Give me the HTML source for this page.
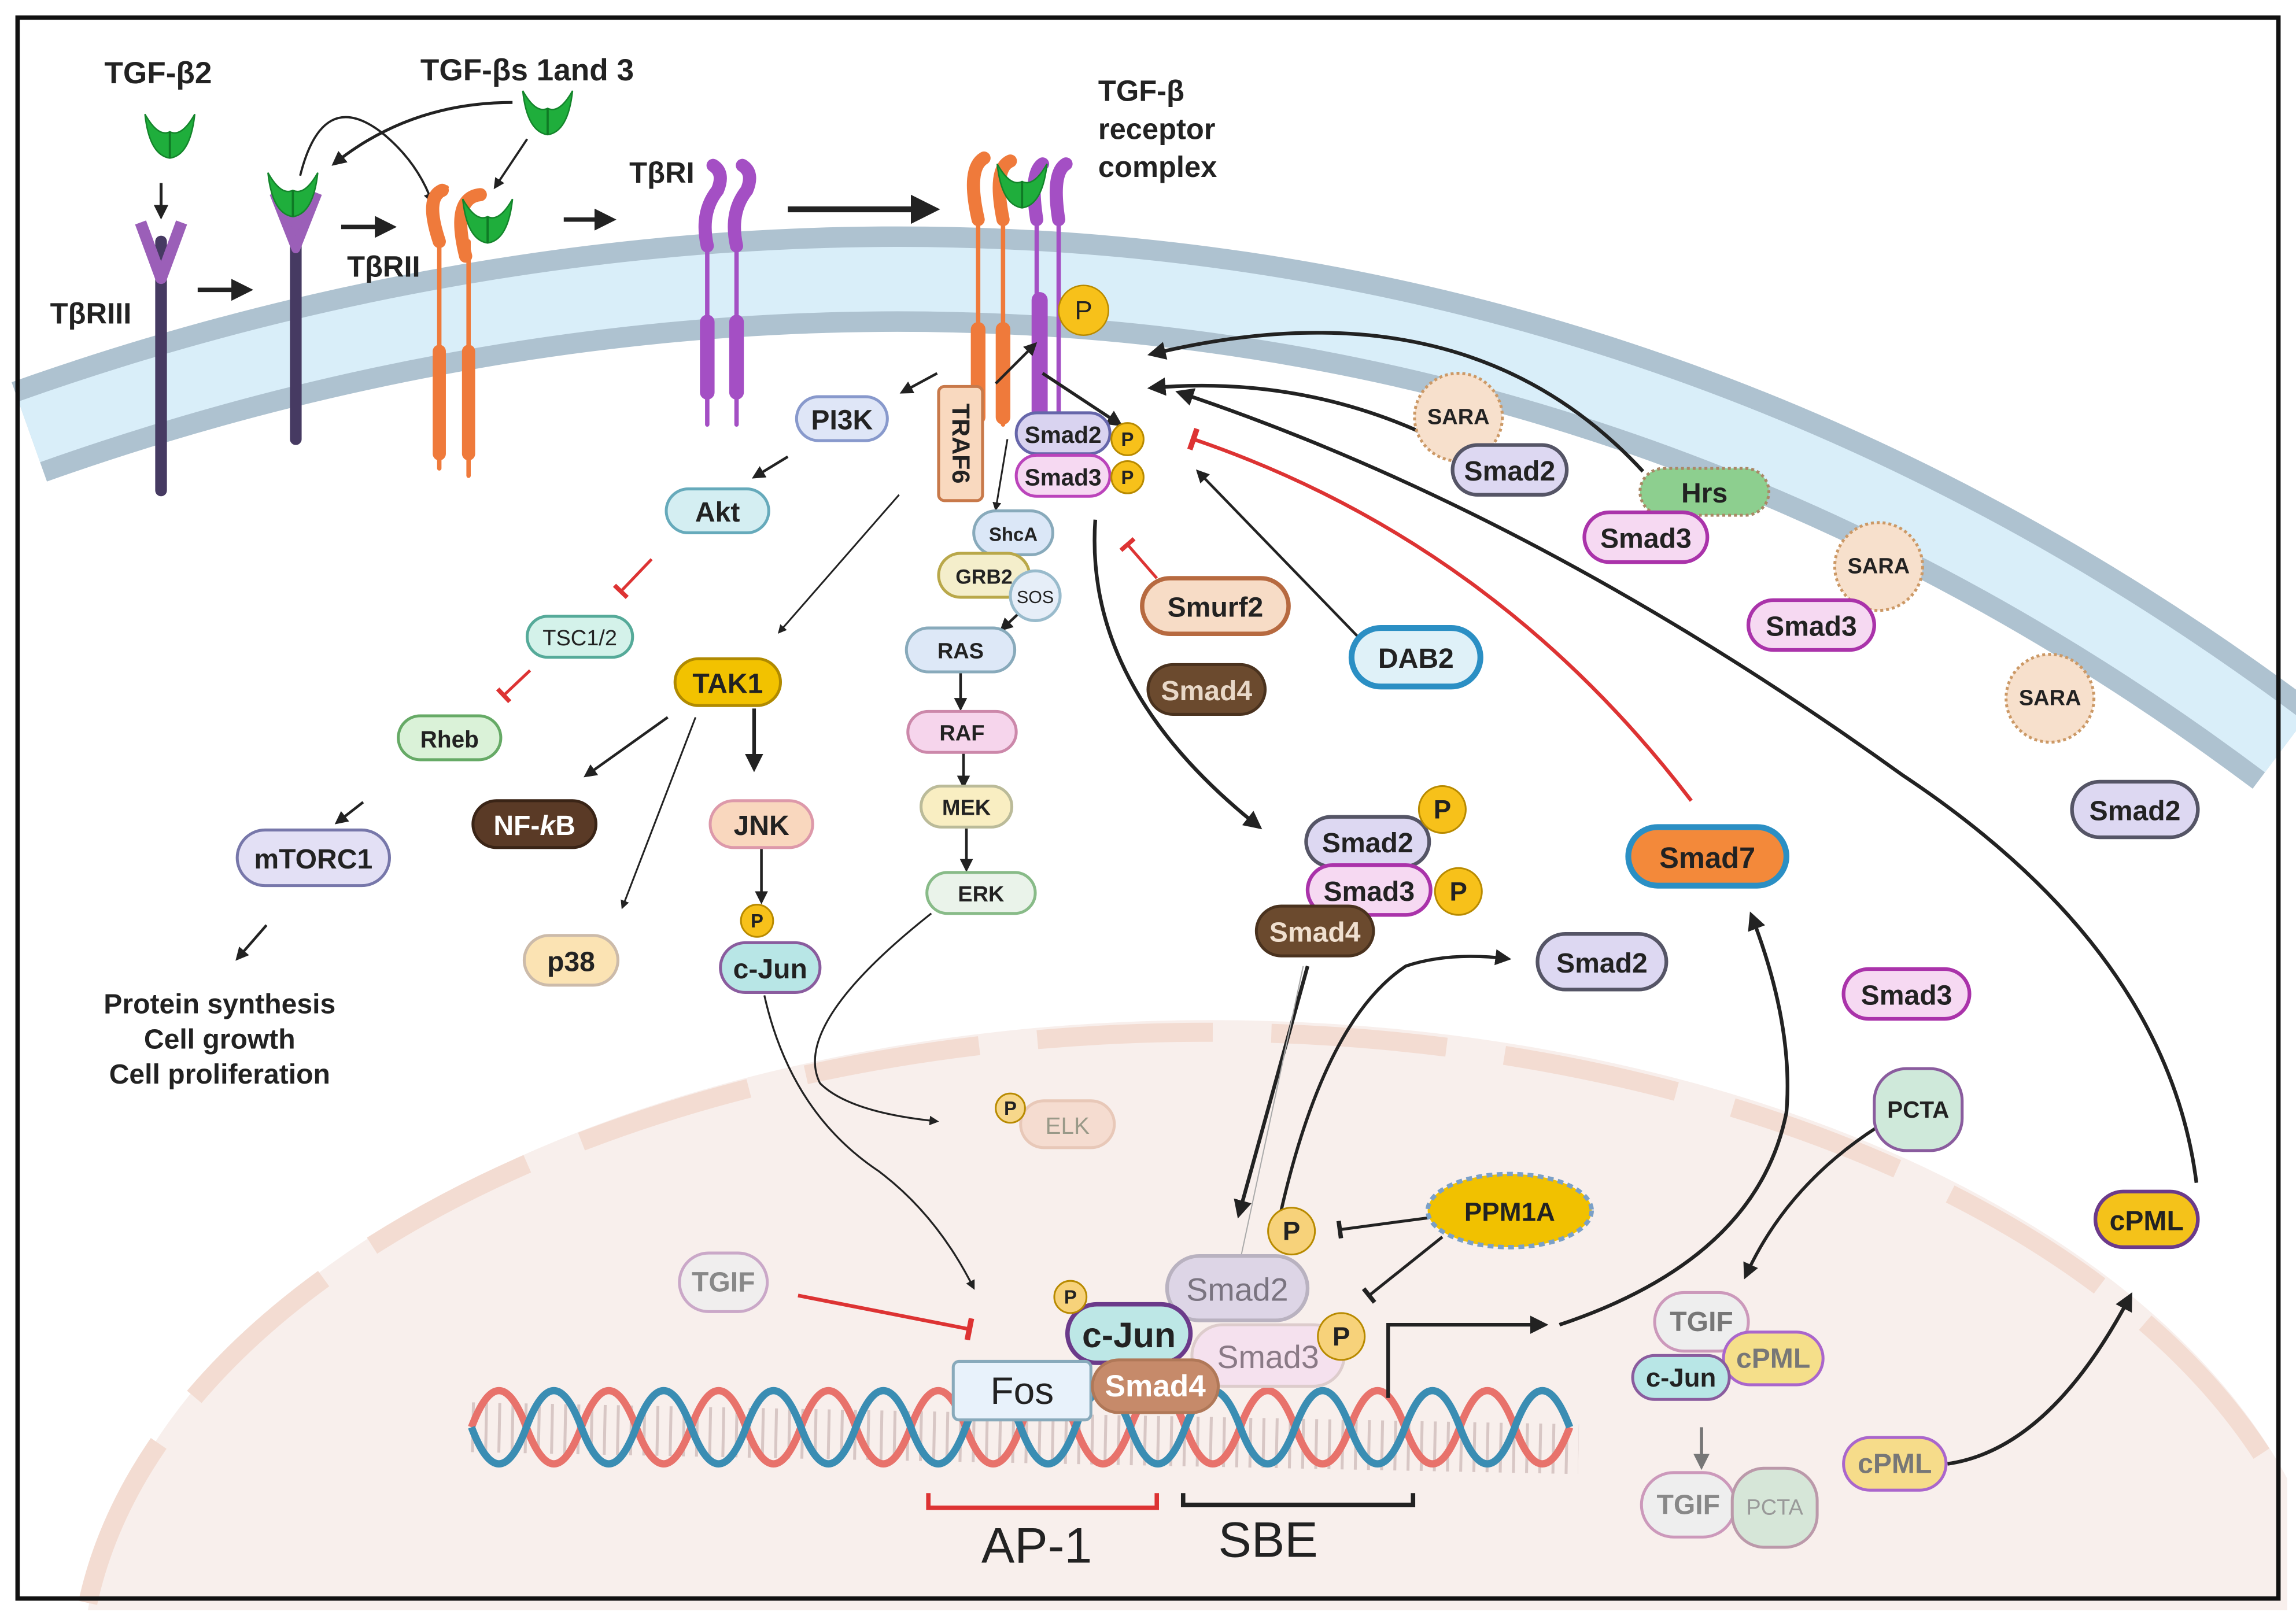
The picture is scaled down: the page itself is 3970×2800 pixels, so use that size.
<!DOCTYPE html>
<html><head><meta charset="utf-8"><style>
html,body{margin:0;padding:0;background:#fff;overflow:hidden;width:3970px;height:2800px}
svg{display:block;overflow:hidden}
text{font-family:"Liberation Sans",sans-serif;font-weight:bold;text-anchor:middle;dominant-baseline:central;fill:#222}
</style></head><body>
<svg width="3970" height="2800" viewBox="0 0 1568 1106" preserveAspectRatio="none" xmlns="http://www.w3.org/2000/svg">
<defs>
<clipPath id="clip"><rect x="0" y="0" width="1568" height="1106"/></clipPath>
<marker id="a" viewBox="0 0 10 10" refX="8" refY="5" markerWidth="5" markerHeight="5" orient="auto"><path d="M0,0L10,5L0,10z" fill="#222"/></marker>
<marker id="g" viewBox="0 0 10 10" refX="8" refY="5" markerWidth="5" markerHeight="5" orient="auto"><path d="M0,0L10,5L0,10z" fill="#777"/></marker>
<marker id="t" viewBox="0 0 10 10" refX="5" refY="5" markerWidth="6" markerHeight="6" orient="auto"><path d="M5,0L5,10" stroke="#d33" stroke-width="2.5"/></marker>
<marker id="tk" viewBox="0 0 10 10" refX="5" refY="5" markerWidth="6" markerHeight="6" orient="auto"><path d="M5,0L5,10" stroke="#222" stroke-width="2.5"/></marker>
<g id="lig"><path d="M-17,-14 Q-14,14 0,16 Q14,14 17,-14 Q8,2 0,-2 Q-8,2 -17,-14Z" fill="#1fae3c" stroke="#14852b" stroke-width="1"/><path d="M0,-2 L0,16" stroke="#0f7a25" stroke-width="1.5"/></g>
</defs>
<rect x="0" y="0" width="1568" height="1106" fill="#fff"/>
<g clip-path="url(#clip)">
<path d="M60 1100 A770 445 0 0 1 1562 1010 L1562 1100 Z" fill="#f8efec"/>
<path d="M60 1095 A770 445 0 0 1 1556 1012" fill="none" stroke="#f3dcd2" stroke-width="13" stroke-dasharray="120 40"/>
<path d="M20 295 C 400 160, 1000 90, 1560 510" fill="none" stroke="#aec2d0" stroke-width="72"/>
<path d="M20 295 C 400 160, 1000 90, 1560 510" fill="none" stroke="#d9eef9" stroke-width="44"/>
</g>
<rect x="12" y="12" width="1544" height="1080" fill="none" stroke="#111" stroke-width="3"/>

<text x="108" y="50" font-size="21">TGF-β2</text>
<text x="360" y="48" font-size="21">TGF-βs 1and 3</text>
<use href="#lig" x="116" y="92"/>
<use href="#lig" x="374" y="76"/>
<path d="M110 125 L110 148" stroke="#222" stroke-width="2" marker-end="url(#a)"/>
<path d="M110 165 L110 335" stroke="#463a62" stroke-width="8" stroke-linecap="round"/>
<path d="M96 152 L110 190 L124 152" fill="none" stroke="#9b5fb8" stroke-width="8" stroke-linejoin="round"/>
<text x="62" y="214" font-size="20">TβRIII</text>
<path d="M135 198 L170 198" stroke="#222" stroke-width="3" marker-end="url(#a)"/>
<path d="M202 150 L202 300" stroke="#463a62" stroke-width="8" stroke-linecap="round"/>
<path d="M187 132 L202 170 L217 132" fill="#9b5fb8" stroke="#9b5fb8" stroke-width="6" stroke-linejoin="round"/>
<use href="#lig" x="200" y="132"/>
<path d="M233 155 L268 155" stroke="#222" stroke-width="3" marker-end="url(#a)"/>
<text x="262" y="182" font-size="20">TβRII</text>
<path d="M205 120 Q220 60 260 90 Q285 110 295 138" fill="none" stroke="#222" stroke-width="1.5" marker-end="url(#a)"/>
<path d="M350 70 Q280 70 228 112" fill="none" stroke="#222" stroke-width="2" marker-end="url(#a)"/>
<path d="M360 95 L338 128" stroke="#222" stroke-width="1.5" marker-end="url(#a)"/>
<g stroke="#ef7a3b" fill="none" stroke-linecap="round">
<path d="M300 320 L300 160 Q290 130 305 128" stroke-width="3"/><path d="M300 165 Q290 135 302 130" stroke-width="9"/>
<path d="M320 325 L320 165" stroke-width="3"/><path d="M318 175 Q308 135 328 133" stroke-width="9"/>
<path d="M300 240 L300 310" stroke-width="9"/><path d="M320 240 L320 310" stroke-width="9"/>
</g>
<use href="#lig" x="333" y="150"/>
<path d="M385 150 L418 150" stroke="#222" stroke-width="3" marker-end="url(#a)"/>
<text x="452" y="118" font-size="20">TβRI</text>
<g stroke="#a44fc4" fill="none" stroke-linecap="round">
<path d="M483 290 L483 160" stroke-width="3"/><path d="M503 290 L503 160" stroke-width="3"/>
<path d="M483 168 Q478 145 490 130 Q495 118 487 113" stroke-width="9"/>
<path d="M503 168 Q498 145 510 130 Q515 118 507 113" stroke-width="9"/>
<path d="M483 220 L483 268" stroke-width="10"/><path d="M503 220 L503 268" stroke-width="10"/>
</g>
<path d="M538 143 L638 143" stroke="#222" stroke-width="4" marker-end="url(#a)"/>
<g stroke-linecap="round" fill="none">
<path d="M668 290 L668 140" stroke="#ef7a3b" stroke-width="3"/><path d="M685 290 L685 140" stroke="#ef7a3b" stroke-width="3"/>
<path d="M668 150 Q660 115 672 108" stroke="#ef7a3b" stroke-width="9"/><path d="M685 150 Q678 115 690 110" stroke="#ef7a3b" stroke-width="9"/>
<path d="M668 225 L668 285" stroke="#ef7a3b" stroke-width="10"/><path d="M685 225 L685 285" stroke="#ef7a3b" stroke-width="10"/>
<path d="M708 300 L708 130" stroke="#a44fc4" stroke-width="3"/><path d="M723 300 L723 130" stroke="#a44fc4" stroke-width="3"/>
<path d="M708 150 Q703 118 712 112" stroke="#a44fc4" stroke-width="9"/><path d="M723 150 Q718 118 728 112" stroke="#a44fc4" stroke-width="9"/>
<path d="M710 205 L710 285" stroke="#a44fc4" stroke-width="11"/>
</g>
<use href="#lig" x="698" y="126"/>
<text x="750" y="62" font-size="20" style="text-anchor:start">TGF-β</text>
<text x="750" y="88" font-size="20" style="text-anchor:start">receptor</text>
<text x="750" y="114" font-size="20" style="text-anchor:start">complex</text>
<circle cx="740" cy="212" r="17" fill="#f7c11a" stroke="#b88a00"/><text x="740" y="212" font-size="18" style="font-weight:normal">P</text>

<path d="M322 975 L1078 990" stroke="#b9a0a0" stroke-width="34" stroke-dasharray="2 7" opacity="0.5"/>
<path d="M322 975 q18.75 -50 37.5 0 t37.5 0 t37.5 0 t37.5 0 t37.5 0 t37.5 0 t37.5 0 t37.5 0 t37.5 0 t37.5 0 t37.5 0 t37.5 0 t37.5 0 t37.5 0 t37.5 0 t37.5 0 t37.5 0 t37.5 0 t37.5 0 t37.5 0" fill="none" stroke="#e8726b" stroke-width="5"/>
<path d="M322 975 q18.75 50 37.5 0 t37.5 0 t37.5 0 t37.5 0 t37.5 0 t37.5 0 t37.5 0 t37.5 0 t37.5 0 t37.5 0 t37.5 0 t37.5 0 t37.5 0 t37.5 0 t37.5 0 t37.5 0 t37.5 0 t37.5 0 t37.5 0 t37.5 0" fill="none" stroke="#3a8db3" stroke-width="5"/>
<path d="M634 1020 L634 1030 L790 1030 L790 1020" fill="none" stroke="#d33" stroke-width="3"/>
<path d="M808 1020 L808 1028 L965 1028 L965 1020" fill="none" stroke="#222" stroke-width="3"/>
<text x="708" y="1056" font-size="34" style="font-weight:normal">AP-1</text>
<text x="866" y="1052" font-size="34" style="font-weight:normal">SBE</text>

<g fill="none" stroke="#222" stroke-width="1.8">
<path d="M640 255 L616 268" marker-end="url(#a)"/>
<path d="M538 312 L515 326" marker-end="url(#a)"/>
<path d="M248 548 L230 562" marker-end="url(#a)"/>
<path d="M182 632 L162 655" marker-end="url(#a)"/>
<path d="M614 338 L532 432" stroke-width="1.2" marker-end="url(#a)"/>
<path d="M456 490 L400 530" marker-end="url(#a)"/>
<path d="M475 490 L425 620" stroke-width="1.2" marker-end="url(#a)"/>
<path d="M515 484 L515 525" stroke-width="2.5" marker-end="url(#a)"/>
<path d="M520 580 L520 616" marker-end="url(#a)"/>
<path d="M680 262 L707 235" marker-end="url(#a)"/>
<path d="M712 255 L765 290" stroke-width="2.2" marker-end="url(#a)"/>
<path d="M688 300 L680 348" stroke-width="1.2" marker-end="url(#a)"/>
<path d="M700 415 L684 430" marker-end="url(#a)"/>
<path d="M656 460 L656 484" marker-end="url(#a)"/>
<path d="M658 514 L658 537" marker-end="url(#a)"/>
<path d="M660 566 L660 594" marker-end="url(#a)"/>
<path d="M636 624 Q540 700 560 740 Q580 760 640 766" stroke-width="1.3" marker-end="url(#a)"/>
<path d="M522 680 Q540 760 600 800 Q640 830 665 880" stroke-width="1.3" marker-end="url(#a)"/>
<path d="M748 355 Q740 470 860 565" stroke-width="2.5" marker-end="url(#a)"/>
<path d="M940 448 L818 322" stroke-width="1.8" marker-end="url(#a)"/>
<path d="M1122 322 Q1000 190 786 242" stroke-width="2.5" marker-end="url(#a)"/>
<path d="M1000 310 Q900 255 786 265" stroke-width="2.5" marker-end="url(#a)"/>
<path d="M1500 808 Q1480 650 1300 530 Q1050 350 805 268" stroke-width="2.5" marker-end="url(#a)"/>
<path d="M893 660 L846 830" stroke-width="2.5" marker-end="url(#a)"/>
<path d="M870 850 Q900 700 960 660 Q990 650 1030 655" stroke-width="2.2" marker-end="url(#a)"/>
<path d="M948 955 L948 905 L1055 905" stroke-width="2.5" marker-end="url(#a)"/>
<path d="M1065 905 Q1200 860 1220 760 Q1225 700 1196 625" stroke-width="2.5" marker-end="url(#a)"/>
<path d="M1282 770 Q1220 810 1192 872" stroke-width="2.2" marker-end="url(#a)"/>
<path d="M1330 1000 Q1400 990 1455 885" stroke-width="2.5" marker-end="url(#a)"/>
<path d="M975 832 L915 840" stroke-width="2" marker-end="url(#tk)"/>
<path d="M985 845 L935 885" stroke-width="2" marker-end="url(#tk)"/>
</g>
<path d="M1162 975 L1162 1002" stroke="#777" stroke-width="2.2" marker-end="url(#g)"/>
<g fill="none" stroke="#d33" stroke-width="2">
<path d="M445 382 L424 404" marker-end="url(#t)"/>
<path d="M362 458 L344 475" marker-end="url(#t)"/>
<path d="M1155 547 Q1020 370 815 300" stroke-width="2.5" marker-end="url(#t)"/>
<path d="M790 395 L770 372" marker-end="url(#t)"/>
<path d="M545 885 L662 908" stroke-width="2.5" marker-end="url(#t)"/>
</g>
<path d="M890 660 L845 870" stroke="#aaa" stroke-width="0.8"/>

<g stroke-width="2">
<rect x="544" y="271" width="62" height="30" rx="15" fill="#dfe6f7" stroke="#8899cc"/>
<rect x="641" y="264" width="30" height="78" rx="4" fill="#f9d9bf" stroke="#c8794a"/>
<rect x="455" y="334" width="70" height="30" rx="15" fill="#d4eef2" stroke="#6ab"/>
<rect x="360" y="421" width="72" height="28" rx="14" fill="#d4f2ea" stroke="#5a9"/>
<rect x="272" y="489" width="70" height="30" rx="15" fill="#daf2d8" stroke="#6a6"/>
<rect x="162" y="567" width="104" height="38" rx="19" fill="#e3e0f5" stroke="#77a"/>
<rect x="461" y="450" width="72" height="32" rx="16" fill="#f2c200" stroke="#b08a00"/>
<rect x="323" y="547" width="84" height="32" rx="16" fill="#5a3a26" stroke="#3a2416"/>
<rect x="485" y="547" width="70" height="32" rx="16" fill="#f9d7be" stroke="#d9a"/>
<rect x="358" y="639" width="64" height="34" rx="17" fill="#fbe3b3" stroke="#cba"/>
<rect x="492" y="644" width="68" height="34" rx="17" fill="#b8e6e6" stroke="#8a5c9e"/>
<rect x="694" y="282" width="64" height="28" rx="14" fill="#d9d3f0" stroke="#66a"/>
<rect x="694" y="311" width="64" height="28" rx="14" fill="#f6d9f2" stroke="#b4b"/>
<rect x="665" y="349" width="54" height="30" rx="15" fill="#dbe7f7" stroke="#8ab"/>
<rect x="641" y="378" width="62" height="30" rx="15" fill="#f4eecb" stroke="#b9a84a"/>
<circle cx="707" cy="407" r="17" fill="#e6eef8" stroke="#9bc"/>
<rect x="619" y="429" width="74" height="30" rx="15" fill="#dde8f7" stroke="#8ab"/>
<rect x="620" y="486" width="74" height="28" rx="14" fill="#f6d5ec" stroke="#c8a"/>
<rect x="629" y="537" width="62" height="28" rx="14" fill="#f9eec2" stroke="#bb9"/>
<rect x="633" y="596" width="74" height="28" rx="14" fill="#eaf3ea" stroke="#8b8"/>
<rect x="780" y="395" width="100" height="38" rx="19" fill="#f7dcc6" stroke="#b76a40" stroke-width="3"/>
<rect x="784" y="454" width="80" height="34" rx="17" fill="#6b4a2e" stroke="#4a321e"/>
<rect x="923" y="429" width="88" height="40" rx="20" fill="#dff1f8" stroke="#2b8fc4" stroke-width="4"/>
<circle cx="996" cy="285" r="30" fill="#f7e0cc" stroke="#c96" stroke-dasharray="2 2"/>
<circle cx="1283" cy="387" r="30" fill="#f7e0cc" stroke="#c96" stroke-dasharray="2 2"/>
<circle cx="1400" cy="477" r="30" fill="#f7e0cc" stroke="#c96" stroke-dasharray="2 2"/>
<rect x="992" y="304" width="78" height="34" rx="17" fill="#ddd8f2" stroke="#556" stroke-width="2.5"/>
<rect x="1120" y="320" width="88" height="32" rx="16" fill="#8dcf8f" stroke="#a86" stroke-dasharray="2 2"/>
<rect x="1082" y="350" width="84" height="34" rx="17" fill="#f6d9f2" stroke="#a3a" stroke-width="2.5"/>
<rect x="1194" y="410" width="86" height="34" rx="17" fill="#f6d9f2" stroke="#a3a" stroke-width="2.5"/>
<rect x="1415" y="534" width="86" height="38" rx="19" fill="#ddd8f2" stroke="#556" stroke-width="2.5"/>
<rect x="1112" y="565" width="108" height="40" rx="20" fill="#f3893a" stroke="#2b8fc4" stroke-width="4"/>
<rect x="892" y="558" width="84" height="34" rx="17" fill="#ddd8f2" stroke="#556" stroke-width="2.5"/>
<rect x="893" y="591" width="84" height="34" rx="17" fill="#f6d9f2" stroke="#a3a" stroke-width="2.5"/>
<rect x="858" y="619" width="80" height="34" rx="17" fill="#6b4a2e" stroke="#4a321e"/>
<rect x="1050" y="638" width="88" height="38" rx="19" fill="#ddd8f2" stroke="#556" stroke-width="2.5"/>
<rect x="1259" y="662" width="86" height="34" rx="17" fill="#f6d9f2" stroke="#a3a" stroke-width="2.5"/>
<rect x="1280" y="730" width="60" height="56" rx="22" fill="#cfe9da" stroke="#8a5c9e"/>
<rect x="1431" y="814" width="70" height="38" rx="19" fill="#f4c21a" stroke="#6b3a8a" stroke-width="2.5"/>
<rect x="697" y="752" width="64" height="32" rx="16" fill="#f5dcd0" stroke="#e8c8b8"/>
<rect x="464" y="856" width="60" height="40" rx="20" fill="#f0eeee" stroke="#caa8c8"/>
<ellipse cx="1031" cy="827" rx="56" ry="25" fill="#f1c100" stroke="#7aa0c8" stroke-width="3" stroke-dasharray="4 3"/>
<rect x="797" y="858" width="96" height="44" rx="22" fill="#ddd5e6" stroke="#b9b2c0" stroke-width="2.5"/>
<rect x="814" y="905" width="104" height="42" rx="21" fill="#f5e1ee" stroke="#dcc" stroke-width="2"/>
<rect x="729" y="891" width="84" height="40" rx="20" fill="#bde7e6" stroke="#6b3a8a" stroke-width="3"/>
<rect x="651" y="930" width="94" height="40" rx="4" fill="#e8f2fb" stroke="#8ab"/>
<rect x="746" y="929" width="86" height="36" rx="18" fill="#c68a6a" stroke="#b07858"/>
<rect x="1130" y="883" width="64" height="40" rx="20" fill="#eeeeee" stroke="#c9b"/>
<rect x="1177" y="910" width="68" height="36" rx="18" fill="#f5df8a" stroke="#a6c"/>
<rect x="1115" y="926" width="66" height="30" rx="15" fill="#b8e6e6" stroke="#8a5c9e"/>
<rect x="1121" y="1006" width="64" height="44" rx="22" fill="#eeeeee" stroke="#c9b"/>
<rect x="1183" y="1003" width="58" height="54" rx="22" fill="#d6e6d8" stroke="#b9a"/>
<rect x="1259" y="982" width="70" height="36" rx="18" fill="#f6dc8a" stroke="#a6c"/>
</g>
<g stroke="#b88a00" stroke-width="1.2" fill="#f7c11a">
<circle cx="770" cy="300" r="11"/><circle cx="770" cy="326" r="11"/>
<circle cx="517" cy="629" r="11"/><circle cx="985" cy="553" r="16"/><circle cx="996" cy="609" r="16"/>
<circle cx="690" cy="757" r="10" fill="#f7d78a"/><circle cx="882" cy="841" r="16" fill="#f7d27a"/>
<circle cx="731" cy="886" r="11" fill="#f7d27a"/><circle cx="916" cy="913" r="16" fill="#f7d27a"/>
</g>
<g font-size="13" style="font-weight:normal">
<text x="770" y="300">P</text><text x="770" y="326">P</text><text x="517" y="629">P</text>
<text x="985" y="553" font-size="18">P</text><text x="996" y="609" font-size="18">P</text>
<text x="690" y="757">P</text><text x="882" y="841" font-size="18">P</text><text x="731" y="886">P</text><text x="916" y="913" font-size="18">P</text>
</g>
<g font-size="19">
<text x="575" y="287">PI3K</text>
<text x="656" y="303" transform="rotate(90 656 303)" font-size="17">TRAF6</text>
<text x="490" y="350">Akt</text>
<text x="396" y="436" font-size="15" style="font-weight:normal">TSC1/2</text>
<text x="307" y="505" font-size="16">Rheb</text>
<text x="214" y="587">mTORC1</text>
<text x="150" y="686">Protein synthesis</text>
<text x="150" y="710">Cell growth</text>
<text x="150" y="734">Cell proliferation</text>
<text x="497" y="467">TAK1</text>
<text x="365" y="564" style="fill:#fff">NF-<tspan font-style="italic">k</tspan>B</text>
<text x="520" y="564">JNK</text>
<text x="390" y="657">p38</text>
<text x="526" y="662">c-Jun</text>
<text x="726" y="297" font-size="16">Smad2</text>
<text x="726" y="326" font-size="16">Smad3</text>
<text x="692" y="365" font-size="13">ShcA</text>
<text x="672" y="394" font-size="14">GRB2</text>
<text x="707" y="408" font-size="12" style="font-weight:normal">SOS</text>
<text x="656" y="445" font-size="15">RAS</text>
<text x="657" y="501" font-size="15">RAF</text>
<text x="660" y="552" font-size="15">MEK</text>
<text x="670" y="611" font-size="15">ERK</text>
<text x="830" y="415">Smurf2</text>
<text x="824" y="472" style="fill:#e8d8c8">Smad4</text>
<text x="967" y="450">DAB2</text>
<text x="996" y="285" font-size="15">SARA</text>
<text x="1283" y="387" font-size="15">SARA</text>
<text x="1400" y="477" font-size="15">SARA</text>
<text x="1031" y="322">Smad2</text>
<text x="1164" y="337">Hrs</text>
<text x="1124" y="368">Smad3</text>
<text x="1237" y="428">Smad3</text>
<text x="1458" y="554">Smad2</text>
<text x="1166" y="586" font-size="20">Smad7</text>
<text x="934" y="576">Smad2</text>
<text x="935" y="609">Smad3</text>
<text x="898" y="637" style="fill:#f0e0d0">Smad4</text>
<text x="1094" y="658">Smad2</text>
<text x="1302" y="680">Smad3</text>
<text x="1310" y="758" font-size="16">PCTA</text>
<text x="1466" y="834">cPML</text>
<text x="729" y="769" font-size="16" style="fill:#998;font-weight:normal">ELK</text>
<text x="494" y="876" style="fill:#888">TGIF</text>
<text x="1031" y="828" font-size="18">PPM1A</text>
<text x="845" y="881" font-size="22" style="fill:#7a7480;font-weight:normal">Smad2</text>
<text x="866" y="927" font-size="22" style="fill:#8a7a86;font-weight:normal">Smad3</text>
<text x="771" y="912" font-size="24">c-Jun</text>
<text x="698" y="950" font-size="26" style="font-weight:normal">Fos</text>
<text x="789" y="947" font-size="21" style="fill:#fff">Smad4</text>
<text x="1162" y="903" style="fill:#777">TGIF</text>
<text x="1211" y="928" style="fill:#777">cPML</text>
<text x="1148" y="941" font-size="18">c-Jun</text>
<text x="1153" y="1028" style="fill:#888">TGIF</text>
<text x="1212" y="1030" font-size="15" style="fill:#999;font-weight:normal">PCTA</text>
<text x="1294" y="1000" style="fill:#777">cPML</text>
</g>
</svg>
</body></html>
